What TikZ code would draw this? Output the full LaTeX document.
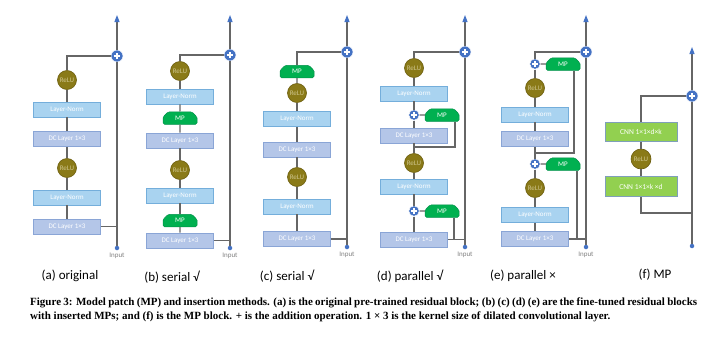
\documentclass[tikz,border=0pt]{standalone}
\usepackage{fontspec}
\setmainfont{Liberation Serif}
\newfontfamily\boxfont{Carlito}
\usetikzlibrary{arrows.meta,shapes.misc}
\definecolor{wiregray}{HTML}{666666}
\definecolor{lnfill}{HTML}{A9D3F0}
\definecolor{lnborder}{HTML}{74AEDB}
\definecolor{dcfill}{HTML}{B4C6E8}
\definecolor{dcborder}{HTML}{8AA5D6}
\definecolor{relufill}{HTML}{8A7A18}
\definecolor{reluborder}{HTML}{6A5C0C}
\definecolor{relutext}{HTML}{CFC68E}
\definecolor{pblue}{HTML}{4472C4}
\definecolor{mpgreen}{HTML}{00B050}
\definecolor{mpborder}{HTML}{00914A}
\definecolor{cnnfill}{HTML}{92D050}
\definecolor{cnnborder}{HTML}{7F9FBA}
\definecolor{labgray}{HTML}{808080}
\begin{document}
\begin{tikzpicture}[x=1pt,y=-1pt,
  wire/.style={draw=wiregray, line width=1.1pt},
  tip/.style={-{Triangle[length=7pt,width=5pt,color=pblue]}},
  ln/.style={rectangle, fill=lnfill, draw=lnborder, line width=0.6pt, minimum width=67pt, minimum height=15pt, inner sep=0pt, text=white, font=\boxfont\fontsize{7}{8}\selectfont},
  dc/.style={ln, fill=dcfill, draw=dcborder},
  relu/.style={circle, fill=relufill, draw=reluborder, line width=0.6pt, minimum size=19pt, inner sep=0pt, text=relutext, font=\boxfont\fontsize{7}{8}\selectfont},
  plusb/.style={circle, fill=pblue, draw=white, line width=0.5pt, minimum size=12pt, inner sep=0pt,
    path picture={\draw[white,line width=1.3pt] ([xshift=-3.2pt]path picture bounding box.center) -- ([xshift=3.2pt]path picture bounding box.center) ([yshift=-3.2pt]path picture bounding box.center) -- ([yshift=3.2pt]path picture bounding box.center);}},
  pluss/.style={circle, fill=pblue, draw=white, line width=0.5pt, minimum size=10.5pt, inner sep=0pt,
    path picture={\draw[white,line width=1.2pt] ([xshift=-2.7pt]path picture bounding box.center) -- ([xshift=2.7pt]path picture bounding box.center) ([yshift=-2.7pt]path picture bounding box.center) -- ([yshift=2.7pt]path picture bounding box.center);}},
  mp/.style={chamfered rectangle, chamfered rectangle corners={north east,north west}, chamfered rectangle xsep=3pt, chamfered rectangle ysep=3pt, rounded corners=1.5pt, fill=mpgreen, draw=mpborder, line width=0.5pt, minimum width=34pt, minimum height=12.5pt, inner sep=0pt, text=white, font=\boxfont\fontsize{7}{8}\selectfont},
  cnn/.style={rectangle, fill=cnnfill, draw=cnnborder, line width=0.6pt, minimum width=72pt, minimum height=19.5pt, inner sep=0pt, text=white, font=\boxfont\fontsize{7.5}{8}\selectfont},
  dot/.style={circle, fill=pblue, minimum size=4.5pt, inner sep=0pt},
  inlabel/.style={text=labgray, font=\boxfont\fontsize{7}{8}\selectfont},
  sub/.style={font=\boxfont\fontsize{13}{14}\selectfont, text=black},
  capline/.style={font=\bfseries\fontsize{11}{13}\selectfont, anchor=west, inner sep=0pt}
]
\useasboundingbox[fill=white] (0,0) rectangle (720,340);

% ---------- (a) ----------
\coordinate (a_top) at (117,15);
\node[plusb] (a_plus) at (117,56) {};
\node[relu] (a_r1) at (67,80) {ReLU};
\node[ln] (a_ln1) at (67,109.5) {Layer-Norm};
\node[dc] (a_dc1) at (67,139) {DC Layer 1×3};
\node[relu] (a_r2) at (67,168) {ReLU};
\node[ln] (a_ln2) at (67,197.5) {Layer-Norm};
\node[dc] (a_dc2) at (67,226.5) {DC Layer 1×3};
\node[dot] (a_in) at (117,248) {};
\node[inlabel] (a_inl) at (117,256) {Input};
\coordinate (a_j) at (117,226.5);
\draw[wire] (a_in) -- (a_plus);
\draw[wire,tip] (a_plus) -- (a_top);
\draw[wire] (a_plus) -| (a_r1);
\draw[wire] (a_r1) -- (a_ln1);
\draw[wire] (a_ln1) -- (a_dc1);
\draw[wire] (a_dc1) -- (a_r2);
\draw[wire] (a_r2) -- (a_ln2);
\draw[wire] (a_ln2) -- (a_dc2);
\draw[wire] (a_dc2) -- (a_j);
\node[sub] (a_cap) at (70,276) {(a) original};

% ---------- (b) ----------
\coordinate (b_top) at (230,15);
\node[plusb] (b_plus) at (230,55) {};
\node[relu] (b_r1) at (180,71) {ReLU};
\node[ln] (b_ln1) at (180,96.5) {Layer-Norm};
\node[mp] (b_mp1) at (180,118) {MP};
\node[dc] (b_dc1) at (180,140.5) {DC Layer 1×3};
\node[relu] (b_r2) at (180,170) {ReLU};
\node[ln] (b_ln2) at (180,195.5) {Layer-Norm};
\node[mp] (b_mp2) at (180,220.5) {MP};
\node[dc] (b_dc2) at (180,240.5) {DC Layer 1×3};
\node[dot] (b_in) at (230,248) {};
\node[inlabel] (b_inl) at (230,256) {Input};
\coordinate (b_j) at (230,240.5);
\draw[wire] (b_in) -- (b_plus);
\draw[wire,tip] (b_plus) -- (b_top);
\draw[wire] (b_plus) -| (b_r1);
\draw[wire] (b_r1) -- (b_ln1);
\draw[wire] (b_ln1) -- (b_mp1);
\draw[wire] (b_mp1) -- (b_dc1);
\draw[wire] (b_dc1) -- (b_r2);
\draw[wire] (b_r2) -- (b_ln2);
\draw[wire] (b_ln2) -- (b_mp2);
\draw[wire] (b_mp2) -- (b_dc2);
\draw[wire] (b_dc2) -- (b_j);
\node[sub] (b_cap) at (172,277) {(b) serial √};

% ---------- (c) ----------
\coordinate (c_top) at (347,15);
\node[plusb] (c_plus) at (347,52) {};
\node[mp] (c_mp) at (297,71.5) {MP};
\node[relu] (c_r1) at (297,93) {ReLU};
\node[ln] (c_ln1) at (297,119) {Layer-Norm};
\node[dc] (c_dc1) at (297,149.5) {DC Layer 1×3};
\node[relu] (c_r2) at (297,177) {ReLU};
\node[ln] (c_ln2) at (297,206.5) {Layer-Norm};
\node[dc] (c_dc2) at (297,239) {DC Layer 1×3};
\node[dot] (c_in) at (347,247) {};
\node[inlabel] (c_inl) at (347,255) {Input};
\coordinate (c_j) at (347,239);
\draw[wire] (c_in) -- (c_plus);
\draw[wire,tip] (c_plus) -- (c_top);
\draw[wire] (c_plus) -| (c_mp);
\draw[wire] (c_mp) -- (c_r1);
\draw[wire] (c_r1) -- (c_ln1);
\draw[wire] (c_ln1) -- (c_dc1);
\draw[wire] (c_dc1) -- (c_r2);
\draw[wire] (c_r2) -- (c_ln2);
\draw[wire] (c_ln2) -- (c_dc2);
\draw[wire] (c_dc2) -- (c_j);
\node[sub] (c_cap) at (287,276) {(c) serial √};

% ---------- (d) ----------
\coordinate (d_top) at (465,15);
\node[plusb] (d_plus) at (465,52) {};
\node[relu] (d_r1) at (414,68) {ReLU};
\node[ln] (d_ln1) at (414,93.5) {Layer-Norm};
\node[pluss] (d_p1) at (414,115) {};
\node[mp] (d_mp1) at (442,115) {MP};
\node[dc] (d_dc1) at (414,135.5) {DC Layer 1×3};
\coordinate (d_b1) at (414,147);
\coordinate (d_k1) at (455,147);
\node[relu] (d_r2) at (414,163) {ReLU};
\node[ln] (d_ln2) at (414,186.5) {Layer-Norm};
\node[pluss] (d_p2) at (414,211) {};
\node[mp] (d_mp2) at (442,211) {MP};
\node[dc] (d_dc2) at (414,239.5) {DC Layer 1×3};
\node[dot] (d_in) at (465,247) {};
\node[inlabel] (d_inl) at (465,255) {Input};
\coordinate (d_j) at (465,239.5);
\coordinate (d_k2) at (454,239.5);
\draw[wire] (d_in) -- (d_plus);
\draw[wire,tip] (d_plus) -- (d_top);
\draw[wire] (d_plus) -| (d_r1);
\draw[wire] (d_r1) -- (d_ln1);
\draw[wire] (d_ln1) -- (d_p1);
\draw[wire] (d_p1) -- (d_dc1);
\draw[wire] (d_dc1) -- (d_r2);
\draw[wire] (d_r2) -- (d_ln2);
\draw[wire] (d_ln2) -- (d_p2);
\draw[wire] (d_p2) -- (d_dc2);
\draw[wire] (d_dc2) -- (d_j);
\draw[wire] (d_mp1) -- (d_p1);
\draw[wire] (d_mp2) -- (d_p2);
\draw[wire] (d_b1) -- (d_k1) -- (d_k1 |- d_mp1.south);
\draw[wire] (d_k2) -- (d_k2 |- d_mp2.south);
\node[sub] (d_cap) at (410,276) {(d) parallel √};

% ---------- (e) ----------
\coordinate (e_top) at (586,15);
\node[plusb] (e_plus) at (586,52) {};
\node[pluss] (e_p1) at (535,64) {};
\node[mp] (e_mp1) at (563,64) {MP};
\node[relu] (e_r1) at (535,88) {ReLU};
\node[ln] (e_ln1) at (535,114.5) {Layer-Norm};
\node[dc] (e_dc1) at (535,139) {DC Layer 1×3};
\coordinate (e_b1) at (535,153);
\coordinate (e_k1) at (574,153);
\node[pluss] (e_p2) at (535,164) {};
\node[mp] (e_mp2) at (563,164) {MP};
\node[relu] (e_r2) at (535,188) {ReLU};
\node[ln] (e_ln2) at (535,215) {Layer-Norm};
\node[dc] (e_dc2) at (535,239) {DC Layer 1×3};
\node[dot] (e_in) at (586,247) {};
\node[inlabel] (e_inl) at (586,255) {Input};
\coordinate (e_j) at (586,239);
\coordinate (e_k2) at (577,239);
\draw[wire] (e_in) -- (e_plus);
\draw[wire,tip] (e_plus) -- (e_top);
\draw[wire] (e_plus) -| (e_p1);
\draw[wire] (e_p1) -- (e_r1);
\draw[wire] (e_r1) -- (e_ln1);
\draw[wire] (e_ln1) -- (e_dc1);
\draw[wire] (e_dc1) -- (e_p2);
\draw[wire] (e_p2) -- (e_r2);
\draw[wire] (e_r2) -- (e_ln2);
\draw[wire] (e_ln2) -- (e_dc2);
\draw[wire] (e_dc2) -- (e_j);
\draw[wire] (e_mp1) -- (e_p1);
\draw[wire] (e_mp2) -- (e_p2);
\draw[wire] (e_b1) -- (e_k1) -- (e_k1 |- e_mp1.south);
\draw[wire] (e_k2) -- (e_k2 |- e_mp2.south);
\node[sub] (e_cap) at (523,276) {(e) parallel ×};

% ---------- (f) ----------
\coordinate (f_top) at (692,47);
\node[plusb] (f_plus) at (692,96) {};
\node[cnn] (f_c1) at (641,132) {CNN 1×1×d×k};
\node[relu, minimum size=20pt] (f_r) at (641,159) {ReLU};
\node[cnn] (f_c2) at (641,186.5) {CNN 1×1×k ×d};
\node[dot] (f_in) at (692,246) {};
\coordinate (f_j) at (692,213);
\draw[wire] (f_in) -- (f_plus);
\draw[wire,tip] (f_plus) -- (f_top);
\draw[wire] (f_plus) -| (f_c1);
\draw[wire] (f_c1) -- (f_r);
\draw[wire] (f_r) -- (f_c2);
\draw[wire] (f_c2) |- (f_j);
\node[sub] (f_cap) at (655,275) {(f) MP};

% ---------- caption ----------
\node[capline] (cap1) at (30,303) {\makebox[667pt][s]{Figure 3: Model patch (MP) and insertion methods. (a) is the original pre-trained residual block; (b) (c) (d) (e) are the fine-tuned residual blocks}};
\node[capline] (cap2) at (30,317) {with inserted MPs; and (f) is the MP block. + is the addition operation. 1 × 3 is the kernel size of dilated convolutional layer.};
\end{tikzpicture}
\end{document}
